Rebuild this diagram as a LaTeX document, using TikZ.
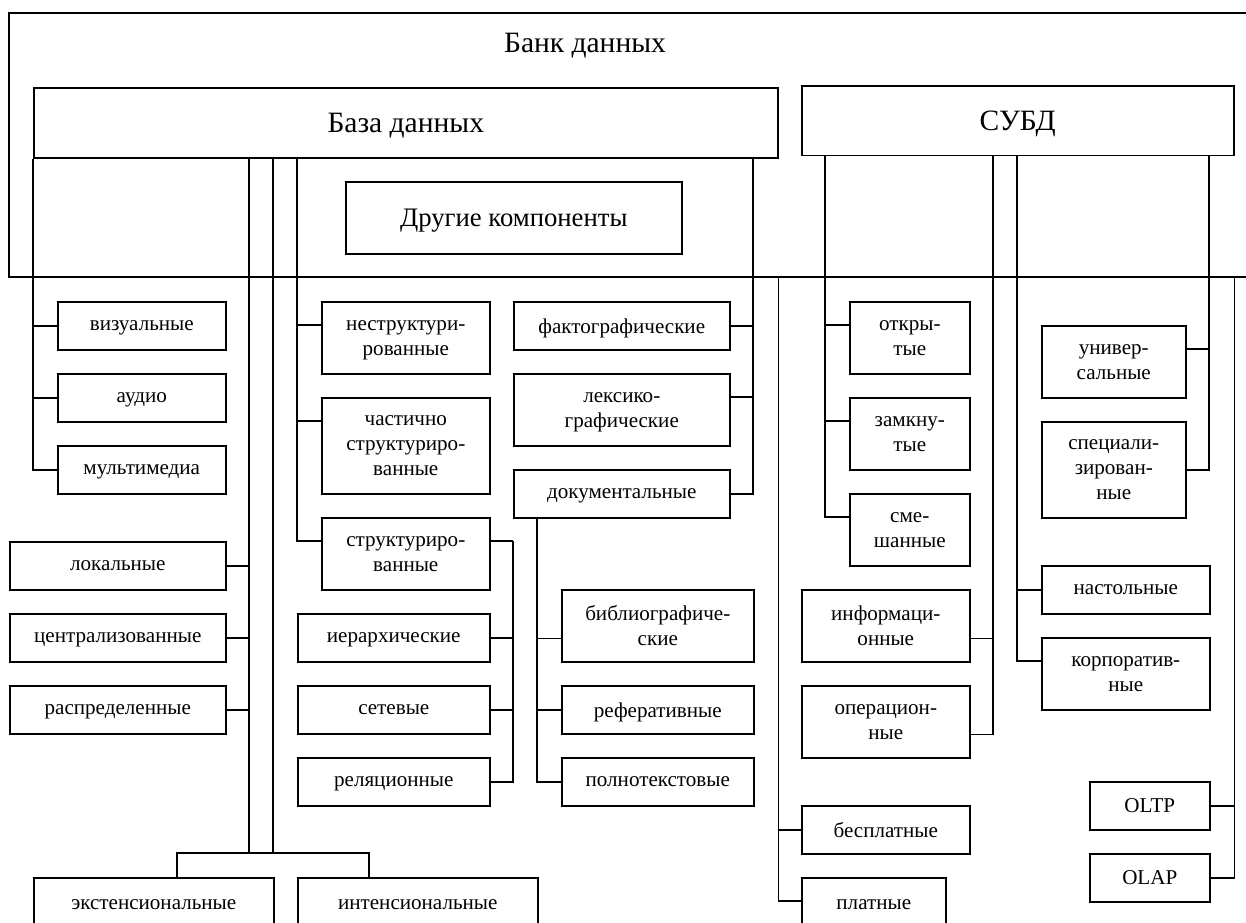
\documentclass[tikz,border=0pt]{standalone}
\usepackage{fontspec}
\setmainfont{Liberation Serif}
\usepackage{tikz}

\tikzset{
  box/.style={draw,align=center,inner sep=1pt,text depth=0pt,anchor=north west,font=\fontsize{15}{17.8}\selectfont},
  bw/.style={minimum width=#1*6mm},
  bh/.style={minimum height=#1*6mm},
  bigfont/.style={font=\fontsize{21}{25}\selectfont}
}

\begin{document}
\begin{tikzpicture}[x=6mm,y=-6mm,line width=1.1pt]
  \useasboundingbox (-0.375,-0.5417) rectangle (51.5417,37.875);
  \clip (-0.375,-0.5417) rectangle (51.5417,37.875);
  % outer frame of the data bank (open to the right)
  \draw[line width=1.2pt] (52,0) -| (0,11) -- (52,11);
  \coordinate (fbot) at (0,11);
  \node[bigfont] (bank) at (24,1.35) {Банк данных};
  \node[box,bigfont,bw=31,bh=2.9] (bd) at (1,3.1) {База данных};
  \node[box,bigfont,bw=18,bh=2.9] (subd) at (33,3) {СУБД};
  \node[box,font=\fontsize{19}{22}\selectfont,bw=14,bh=3] (other) at (14,7) {Другие компоненты};

  % database classes
  \node[box,bw=7,bh=2] (vis) at (2,12) {визуальные};
  \node[box,bw=7,bh=2] (audio) at (2,15) {аудио};
  \node[box,bw=7,bh=2] (mult) at (2,18) {мультимедиа};
  \node[box,bw=9,bh=2] (lok) at (0,22) {локальные};
  \node[box,bw=9,bh=2] (centr) at (0,25) {централизованные};
  \node[box,bw=9,bh=2] (raspr) at (0,28) {распределенные};
  \node[box,bw=10,bh=2.2] (ext) at (1,36) {экстенсиональные};
  \node[box,bw=10,bh=2.2] (int) at (12,36) {интенсиональные};
  \node[box,bw=7,bh=3] (nestr) at (13,12) {неструктури-\\рованные};
  \node[box,bw=7,bh=4] (chast) at (13,16) {частично\\структуриро-\\ванные};
  \node[box,bw=7,bh=3] (strukt) at (13,21) {структуриро-\\ванные};
  \node[box,bw=8,bh=2] (ierarh) at (12,25) {иерархические};
  \node[box,bw=8,bh=2] (set) at (12,28) {сетевые};
  \node[box,bw=8,bh=2] (rel) at (12,31) {реляционные};
  \node[box,bw=9,bh=2] (fakt) at (21,12) {фактографические};
  \node[box,bw=9,bh=3] (leks) at (21,15) {лексико-\\графические};
  \node[box,bw=9,bh=2] (dok) at (21,19) {документальные};
  \node[box,bw=8,bh=3] (bibl) at (23,24) {библиографиче-\\ские};
  \node[box,bw=8,bh=2] (ref) at (23,28) {реферативные};
  \node[box,bw=8,bh=2] (poln) at (23,31) {полнотекстовые};
  \node[box,bw=7,bh=2] (besp) at (33,33) {бесплатные};
  \node[box,bw=6,bh=2.2] (plat) at (33,36) {платные};

  % DBMS classes
  \node[box,bw=5,bh=3] (otkr) at (35,12) {откры-\\тые};
  \node[box,bw=5,bh=3] (zamk) at (35,16) {замкну-\\тые};
  \node[box,bw=5,bh=3] (smesh) at (35,20) {сме-\\шанные};
  \node[box,bw=7,bh=3] (inf) at (33,24) {информаци-\\онные};
  \node[box,bw=7,bh=3] (oper) at (33,28) {операцион-\\ные};
  \node[box,bw=6,bh=3] (univ) at (43,13) {универ-\\сальные};
  \node[box,bw=6,bh=4] (spec) at (43,17) {специали-\\зирован-\\ные};
  \node[box,bw=7,bh=2] (nast) at (43,23) {настольные};
  \node[box,bw=7,bh=3] (korp) at (43,26) {корпоратив-\\ные};
  \node[box,bw=5,bh=2] (oltp) at (45,32) {OLTP};
  \node[box,bw=5,bh=2] (olap) at (45,35) {OLAP};

  % bus points
  \coordinate (dbA) at (bd.south -| 10,0);
  \coordinate (dbB) at (bd.south -| 11,0);
  \coordinate (dbC) at (bd.south -| 12,0);
  \coordinate (dbD) at (bd.south -| 31,0);
  \coordinate (extbus) at (7,35);
  \coordinate (intbus) at (15,35);
  \coordinate (sbus) at (21,22);
  \coordinate (dbus) at (dok.south -| 22,0);
  \coordinate (pbus) at (bd.south east |- fbot);
  \coordinate (sA) at (subd.south -| 34,0);
  \coordinate (sB) at (subd.south -| 41,0);
  \coordinate (sC) at (subd.south -| 42,0);
  \coordinate (sD) at (subd.south -| 50,0);
  \coordinate (sE) at (subd.south east |- fbot);

  % connectors under the database
  \foreach \n in {vis,audio,mult} \draw (bd.south west) |- (\n.west);
  \foreach \n in {lok,centr,raspr} \draw (dbA) |- (\n.east);
  \draw (dbA) -- (dbA |- extbus);
  \draw (dbB) -- (dbB |- extbus);
  \draw (ext.north -| extbus) -- (extbus) -- (intbus) -- (intbus |- int.north);
  \foreach \n in {nestr,chast,strukt} \draw (dbC) |- ([yshift=-6mm]\n.north west);
  \draw ([yshift=-6mm]strukt.north east) -- (sbus);
  \foreach \n in {ierarh,set,rel} \draw (sbus) |- (\n.east);
  \draw (dbD) |- (fakt.east);
  \draw (dbD) |- ([yshift=-6mm]leks.north east);
  \draw (dbD) |- (dok.east);
  \draw (dbus) |- ([yshift=6mm]bibl.south west);
  \foreach \n in {ref,poln} \draw (dbus) |- (\n.west);
  \draw (pbus) |- (besp.west);
  \draw (pbus) |- ([yshift=-6mm]plat.north west);

  % connectors under the DBMS
  \foreach \n in {otkr,zamk,smesh} \draw (sA) |- ([yshift=-6mm]\n.north west);
  \foreach \n in {inf,oper} \draw (sB) |- ([yshift=6mm]\n.south east);
  \draw (sC) |- (nast.west);
  \draw (sC) |- ([yshift=-6mm]korp.north west);
  \draw (sD) |- ([yshift=-6mm]univ.north east);
  \draw (sD) |- (spec.east);
  \foreach \n in {oltp,olap} \draw (sE) |- (\n.east);
\end{tikzpicture}
\end{document}
